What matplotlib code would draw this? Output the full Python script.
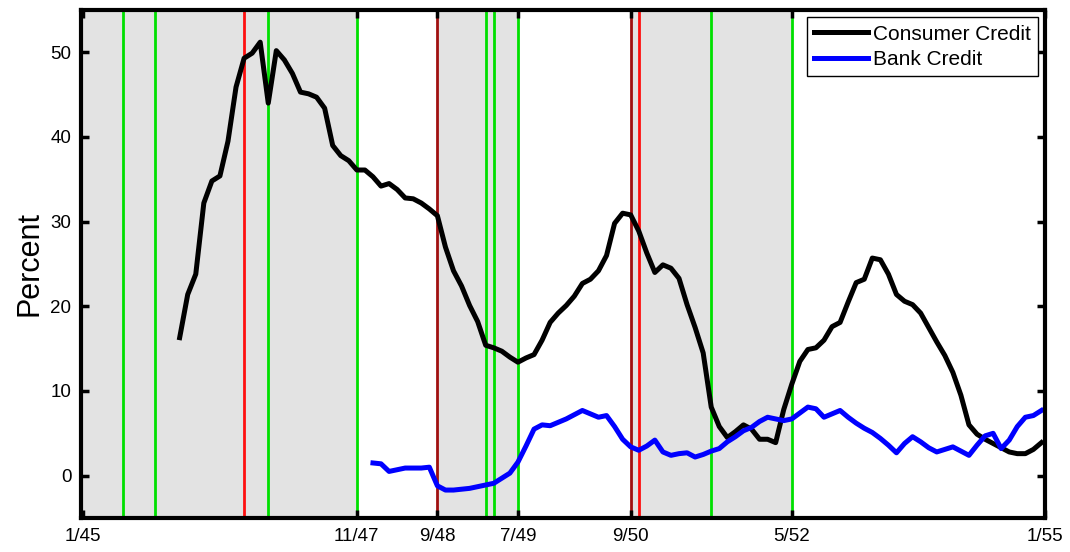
# consumer credit vs bank credit, monthly 1/45 - 1/55
import numpy as np
import matplotlib
matplotlib.use("Agg")
import matplotlib.pyplot as plt

plt.rcParams['font.family'] = ['Liberation Sans', 'DejaVu Sans']

# Step 1 data (percent), monthly
consumer_start = '1/46'
consumer = [16.3, 21.4, 23.8, 32.2, 34.8, 35.4, 39.5, 45.9, 49.3, 49.9,
            51.2, 44.0, 50.2, 49.1, 47.5, 45.3, 45.1, 44.7, 43.4, 39.0,
            37.8, 37.2, 36.1, 36.1, 35.3, 34.2, 34.5, 33.8, 32.8, 32.7,
            32.2, 31.5, 30.7, 27.0, 24.2, 22.4, 20.1, 18.2, 15.4, 15.1,
            14.7, 14.0, 13.4, 13.9, 14.3, 16.0, 18.1, 19.2, 20.1, 21.2,
            22.7, 23.2, 24.2, 26.0, 29.8, 31.0, 30.8, 28.9, 26.3, 24.0,
            24.9, 24.5, 23.3, 20.2, 17.5, 14.5, 8.1, 5.8, 4.5, 5.2,
            6.0, 5.5, 4.3, 4.3, 3.9, 7.8, 10.8, 13.5, 14.9, 15.1,
            16.0, 17.6, 18.1, 20.5, 22.8, 23.2, 25.7, 25.5, 23.8, 21.4,
            20.6, 20.2, 19.2, 17.5, 15.8, 14.2, 12.2, 9.5, 6.0, 4.9,
            4.3, 3.8, 3.3, 2.8, 2.6, 2.6, 3.1, 3.9]

bank_start = '1/48'
bank = [1.5, 1.4, 0.5, 0.7, 0.9, 0.9, 0.9, 1.0, -1.2, -1.7,
        -1.7, -1.6, -1.5, -1.3, -1.1, -0.9, -0.3, 0.3, 1.6, 3.5,
        5.5, 6.0, 5.9, 6.3, 6.7, 7.2, 7.7, 7.3, 6.9, 7.1,
        5.8, 4.3, 3.4, 3.0, 3.5, 4.2, 2.8, 2.4, 2.6, 2.7,
        2.2, 2.5, 2.9, 3.2, 4.0, 4.6, 5.3, 5.7, 6.4, 6.9,
        6.7, 6.5, 6.7, 7.4, 8.1, 7.9, 6.9, 7.3, 7.7, 6.9,
        6.2, 5.6, 5.1, 4.4, 3.6, 2.7, 3.8, 4.6, 4.0, 3.3,
        2.8, 3.1, 3.4, 2.9, 2.4, 3.6, 4.7, 5.0, 3.2, 4.2,
        5.8, 6.9, 7.1, 7.7]

# Step 2 dates for shading, vertical lines and ticks
shaded = [('1/45', '11/47'), ('9/48', '7/49'), ('9/50', '5/52')]
green_dates = ['6/45', '10/45', '12/46', '11/47', '3/49', '4/49', '7/49', '7/51', '5/52']
red_dates = ['9/46', '10/50']
darkred_dates = ['9/48', '9/50']
tick_labels = ['1/45', '11/47', '9/48', '7/49', '9/50', '5/52', '1/55']


def month(s):
    # months since 1/45
    mm, yy = s.split('/')
    return (int(yy) - 45) * 12 + int(mm) - 1


# Step 3 draw
fig = plt.figure(figsize=(10.7, 5.52), dpi=100)
ax = fig.add_axes([0.0757, 0.0616, 0.901, 0.9203])
xlo, xhi = -0.25, 119.45

for a, b in shaded:
    lo = xlo if month(a) == 0 else month(a)
    ax.axvspan(lo, month(b), color='#e3e3e3', lw=0, zorder=0)
for d in green_dates:
    ax.axvline(month(d), color='#00e000', lw=2, zorder=1)
for d in red_dates:
    ax.axvline(month(d), color='#ff1010', lw=2, zorder=1)
for d in darkred_dates:
    ax.axvline(month(d), color='#a01010', lw=2, zorder=1)

xc = month(consumer_start) + np.arange(len(consumer))
xb = month(bank_start) + np.arange(len(bank))
ax.plot(xc, consumer, color='black', lw=3.6, label='Consumer Credit', zorder=3)
ax.plot(xb, bank, color='#0000ff', lw=3.6, label='Bank Credit', zorder=3)

# Step 4 axes
ax.set_xlim(xlo, xhi)
ax.set_ylim(-5, 55)
ax.set_xticks(np.clip([month(t) for t in tick_labels], xlo, xhi))
ax.set_xticklabels(tick_labels)
ax.set_yticks(np.arange(0, 51, 10))
ax.tick_params(direction='in', length=6, width=2.5, labelsize=13.5,
               top=True, right=True, pad=7)
for sp in ax.spines.values():
    sp.set_linewidth(3)
    sp.set_zorder(5)
ax.set_ylabel('Percent', fontsize=22, labelpad=4)

leg = ax.legend(loc='upper right', fontsize=15, handlelength=2.6,
                handletextpad=0.2, borderaxespad=0.35, fancybox=False,
                framealpha=1, borderpad=0.35, labelspacing=0.3)
leg.get_frame().set_edgecolor('black')
leg.get_frame().set_linewidth(1)

# Step 5 output
fig.savefig('out.png', dpi=100)
